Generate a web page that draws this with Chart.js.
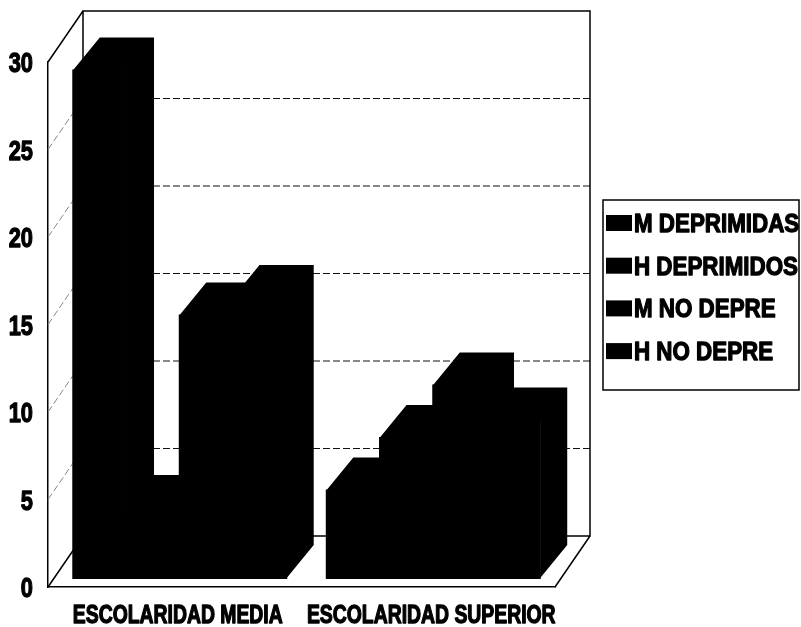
<!DOCTYPE html>
<html>
<head>
<meta charset="utf-8">
<script src="https://cdn.jsdelivr.net/npm/chart.js@4/dist/chart.umd.min.js"></script>
<style>
  body { margin: 0; background: #fff; }
  canvas { display: block; }
</style>
</head>
<body>
<canvas id="chart" width="801" height="627"></canvas>
<script>
// data
var categories = ['ESCOLARIDAD MEDIA', 'ESCOLARIDAD SUPERIOR'];
var seriesNames = ['M DEPRIMIDAS', 'H DEPRIMIDOS', 'M NO DEPRE', 'H NO DEPRE'];
var mDeprimidas = [29, 5];
var hDeprimidos = [4, 8];
var mNoDepre = [15, 11];
var hNoDepre = [16, 9];
var yTicks = [0, 5, 10, 15, 20, 25, 30];

var FONT = "'Liberation Sans', Arial, sans-serif";

// 3d offsets (back wall, bar depth, bar position behind front plane)
var wallX = 35, wallY = -51;
var barX = 27, barY = -33;
var shiftX = 5, shiftY = -9;

// the original uses a heavy narrow face, so squeeze the text sideways and thicken it
function narrowText(ctx, text, x, y, align, size, sx) {
  ctx.save();
  ctx.translate(x, y);
  ctx.scale(sx, 1);
  ctx.font = 'bold ' + size + 'px ' + FONT;
  ctx.textAlign = align;
  ctx.textBaseline = 'alphabetic';
  ctx.fillStyle = '#000';
  ctx.strokeStyle = '#000';
  ctx.lineWidth = 1.3;
  ctx.lineJoin = 'round';
  ctx.fillText(text, 0, 0);
  ctx.strokeText(text, 0, 0);
  ctx.restore();
}

var fake3d = {
  id: 'fake3d',
  beforeDatasetsDraw: function (chart) {
    var ctx = chart.ctx, a = chart.chartArea, y = chart.scales.y;
    var bl = a.left + wallX, br = a.right + wallX;
    var bt = a.top + wallY, bb = a.bottom + wallY;

    ctx.save();
    // dashed grid on back wall and left wall
    ctx.lineWidth = 1;
    ctx.setLineDash([7, 3]);
    yTicks.slice(1, -1).forEach(function (v) {
      var py = y.getPixelForValue(v);
      ctx.strokeStyle = '#111';
      ctx.beginPath();
      ctx.moveTo(bl, py + wallY);
      ctx.lineTo(br, py + wallY);
      ctx.stroke();
      ctx.strokeStyle = '#888';
      ctx.beginPath();
      ctx.moveTo(a.left, py);
      ctx.lineTo(bl, py + wallY);
      ctx.stroke();
    });
    ctx.setLineDash([]);

    // wall and floor edges
    ctx.strokeStyle = '#000';
    ctx.lineWidth = 1.5;
    ctx.beginPath();
    ctx.moveTo(bl, bb); ctx.lineTo(bl, bt); ctx.lineTo(br, bt); ctx.lineTo(br, bb); ctx.lineTo(bl, bb);
    ctx.moveTo(a.left, a.top); ctx.lineTo(bl, bt);
    ctx.moveTo(a.left, a.bottom); ctx.lineTo(bl, bb);
    ctx.moveTo(a.right, a.bottom); ctx.lineTo(br, bb);
    ctx.stroke();
    ctx.restore();

    // bars sit a little behind the front plane; draw their top and side faces
    ctx.save();
    ctx.translate(shiftX, shiftY);
    chart.data.datasets.forEach(function (ds, i) {
      chart.getDatasetMeta(i).data.forEach(function (bar) {
        var p = bar.getProps(['x', 'y', 'base', 'width'], true);
        var l = p.x - p.width / 2 - 0.5, r = p.x + p.width / 2 + 0.5;
        ctx.fillStyle = ds.backgroundColor;
        ctx.beginPath();
        ctx.moveTo(l, p.y);
        ctx.lineTo(l + barX, p.y + barY);
        ctx.lineTo(r + barX, p.y + barY);
        ctx.lineTo(r + barX, p.base + barY);
        ctx.lineTo(r, p.base);
        ctx.lineTo(r, p.y);
        ctx.closePath();
        ctx.fill();
      });
    });
  },
  afterDatasetsDraw: function (chart) {
    chart.ctx.restore();
  },
  afterDraw: function (chart) {
    var ctx = chart.ctx, x = chart.scales.x, y = chart.scales.y;

    // tick labels
    y.ticks.forEach(function (t) {
      narrowText(ctx, String(t.value), 33, y.getPixelForValue(t.value) + 10, 'right', 28, 0.78);
    });
    chart.data.labels.forEach(function (lab, i) {
      narrowText(ctx, lab, x.getPixelForTick(i) + 3, 623, 'center', 25, 0.775);
    });

    // legend box
    ctx.save();
    ctx.strokeStyle = '#000';
    ctx.lineWidth = 1.5;
    ctx.strokeRect(603, 200, 196, 190);
    ctx.restore();
    chart.data.datasets.forEach(function (ds, i) {
      var cy = 223 + i * 42.7;
      ctx.fillStyle = ds.backgroundColor;
      ctx.fillRect(606, cy - 8, 26, 16);
      narrowText(ctx, ds.label, 634, cy + 9, 'left', 26, 0.86);
    });
  }
};

var ctx = document.getElementById('chart').getContext('2d');

var chart = new Chart(ctx, {
  type: 'bar',
  data: {
    labels: categories,
    datasets: [
      { label: seriesNames[0], data: mDeprimidas, backgroundColor: '#000' },
      { label: seriesNames[1], data: hDeprimidos, backgroundColor: '#000' },
      { label: seriesNames[2], data: mNoDepre, backgroundColor: '#000' },
      { label: seriesNames[3], data: hNoDepre, backgroundColor: '#000' }
    ]
  },
  options: {
    responsive: false,
    animation: false,
    layout: { padding: { top: 62, right: 246, bottom: 0, left: 0 } },
    datasets: {
      bar: { categoryPercentage: 0.84, barPercentage: 1.0, borderWidth: 0, inflateAmount: 1, clip: false }
    },
    scales: {
      x: {
        grid: { display: false, drawTicks: false },
        border: { display: true, color: '#000', width: 1.5 },
        ticks: { display: false },
        afterFit: function (scale) { scale.height = 40; }
      },
      y: {
        min: 0,
        max: 30,
        grid: { display: false, drawTicks: false },
        border: { display: true, color: '#000', width: 1.5 },
        ticks: { display: false, stepSize: 5 },
        afterFit: function (scale) { scale.width = 48; }
      }
    },
    plugins: {
      legend: { display: false },
      tooltip: { enabled: false }
    }
  },
  plugins: [fake3d]
});
</script>
</body>
</html>
